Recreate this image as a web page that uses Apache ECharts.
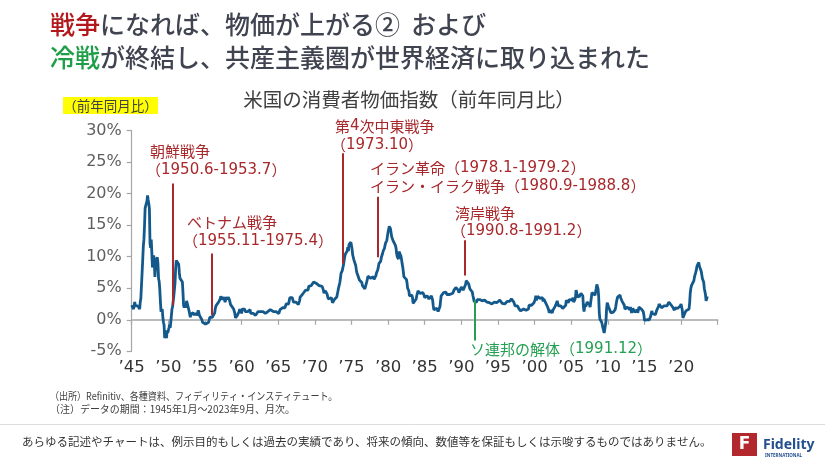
<!DOCTYPE html>
<html>
<head>
<meta charset="utf-8">
<script src="https://cdn.jsdelivr.net/npm/echarts@6/dist/echarts.min.js"></script>
<style>
html,body{margin:0;padding:0;background:#fff;}
#chart{width:825px;height:464px;}
</style>
</head>
<body>
<div id="chart"></div>
<script>
// US CPI, year-on-year %, monthly from 1945-01 to 2023-09
const cpi1940s = [
  2.3,2.3,2.3,1.7,2.3,2.8,2.2,2.2,2.2,2.2,2.2,2.2,
  2.2,1.7,2.8,3.4,3.3,3.3,9.4,11.6,12.7,14.9,17.7,18.1,
  18.1,18.8,19.7,19.0,18.4,17.6,12.1,11.4,12.7,10.6,8.3,8.8,
  10.2,9.3,6.8,8.3,9.4,9.5,9.9,8.9,6.5,6.1,4.8,3.0,
  1.3,1.3,1.7,0.4,-0.4,-0.8,-2.9,-2.9,-2.4,-2.9,-1.7,-2.1
];
const cpi1950s = [
  -2.1,-1.3,-0.8,-1.3,-0.4,-0.4,1.7,2.1,2.1,3.8,3.8,5.9,
  8.1,9.4,9.3,9.3,9.3,8.8,7.5,6.6,6.6,6.5,6.9,6.0,
  4.3,2.3,1.9,2.3,1.9,2.3,3.0,3.0,2.2,1.8,1.4,0.9,
  0.4,0.9,1.1,0.7,0.7,1.1,0.7,1.1,0.7,1.1,0.7,0.7,
  1.1,1.5,1.1,0.7,0.7,0.4,0.4,0.0,-0.4,-0.7,-0.4,-0.7,
  -0.7,-0.7,-0.7,-0.4,-0.7,-0.7,-0.4,-0.4,0.4,0.4,0.4,0.4,
  0.4,0.4,0.4,0.7,1.1,1.8,2.2,1.9,1.9,2.2,2.2,2.9,
  2.9,3.3,3.7,3.6,3.6,3.2,3.2,3.6,3.2,2.8,3.2,2.9,
  3.6,3.2,3.6,3.6,3.2,2.8,2.4,2.1,2.1,2.1,2.1,1.7,
  1.4,1.0,0.3,0.3,0.3,0.7,0.7,1.0,1.3,1.7,1.3,1.7
];
const cpi1960s = [
  1.0,1.7,1.7,1.7,1.7,1.7,1.3,1.3,1.3,1.3,1.3,1.3,
  1.6,1.3,1.6,1.0,0.9,0.7,1.3,1.0,1.3,0.7,0.7,0.7,
  0.7,1.0,1.0,1.3,1.3,1.3,1.0,1.3,1.3,1.3,1.3,1.3,
  1.3,1.0,1.0,1.0,1.0,1.3,1.3,1.3,1.0,1.3,1.3,1.6,
  1.6,1.6,1.3,1.3,1.3,1.3,1.3,1.0,1.3,1.0,1.3,1.0,
  1.0,1.0,1.3,1.6,1.6,1.9,1.6,1.9,1.6,1.9,1.6,1.9,
  1.9,2.5,2.5,2.8,2.8,2.5,2.8,3.5,3.5,3.8,3.8,3.5,
  3.5,2.8,2.8,2.5,2.5,2.8,2.8,2.5,2.8,2.4,2.7,3.0,
  3.6,3.9,3.9,3.9,3.9,4.2,4.5,4.5,4.4,4.7,4.7,4.7,
  4.4,4.7,5.3,5.5,5.5,5.5,5.4,5.7,5.7,5.7,6.0,6.2
];
const cpi1970s = [
  6.2,6.1,5.8,6.1,6.1,6.0,6.0,5.4,5.7,5.7,5.6,5.6,
  5.3,5.0,4.7,4.2,4.4,4.6,4.4,4.6,4.1,3.8,3.3,3.3,
  3.3,3.5,3.5,3.5,3.2,2.7,2.9,2.9,3.2,3.4,3.4,3.4,
  3.6,3.9,4.6,5.1,5.5,5.9,5.7,7.4,7.4,7.8,8.3,8.7,
  9.4,10.0,10.4,10.1,10.7,10.9,11.5,10.9,11.9,12.1,12.2,12.3,
  11.8,11.2,10.3,10.2,9.5,9.3,9.7,8.6,7.9,7.4,7.4,6.9,
  6.7,6.3,6.1,6.0,6.2,5.9,5.4,5.7,5.5,5.5,4.9,4.9,
  5.2,6.0,6.4,6.9,6.7,6.9,6.8,6.6,6.6,6.4,6.7,6.7,
  6.8,6.4,6.6,6.5,7.0,7.4,7.7,7.9,8.3,8.9,8.9,9.0,
  9.3,9.9,10.2,10.5,10.9,10.9,11.3,11.8,12.2,12.1,12.6,13.3
];
const cpi1980s = [
  13.9,14.2,14.8,14.7,14.4,14.4,13.1,12.9,12.6,12.8,12.6,12.5,
  11.8,11.4,10.5,10.0,9.8,9.6,10.8,10.8,11.0,10.1,9.6,8.9,
  8.4,7.6,6.8,6.5,6.7,7.1,6.4,5.9,5.0,5.1,4.6,3.8,
  3.7,3.5,3.6,3.9,3.5,2.6,2.5,2.6,2.9,2.9,3.3,3.8,
  4.2,4.6,4.8,4.6,4.2,4.2,4.2,4.3,4.3,4.3,4.1,3.9,
  3.5,3.5,3.7,3.7,3.8,3.8,3.6,3.3,3.1,3.2,3.5,3.8,
  3.9,3.1,2.2,1.6,1.5,1.8,1.6,1.6,1.8,1.5,1.3,1.1,
  1.5,2.1,3.0,3.8,3.9,3.7,3.9,4.3,4.4,4.5,4.5,4.4,
  4.0,3.9,3.9,3.9,3.9,4.0,4.1,4.0,4.2,4.2,4.2,4.4,
  4.7,4.8,5.0,5.1,5.4,5.2,5.0,4.7,4.3,4.5,4.7,4.6
];
const cpi1990s = [
  5.2,5.3,5.2,4.7,4.4,4.7,4.8,5.6,6.2,6.3,6.3,6.1,
  5.7,5.3,4.9,4.9,5.0,4.7,4.4,3.8,3.4,2.9,3.0,3.1,
  2.6,2.8,3.2,3.2,3.0,3.1,3.2,3.1,3.0,3.2,3.0,2.9,
  3.3,3.2,3.1,3.2,3.2,3.0,2.8,2.8,2.7,2.8,2.7,2.7,
  2.5,2.5,2.5,2.4,2.3,2.5,2.8,2.9,3.0,2.6,2.7,2.7,
  2.8,2.9,2.9,3.1,3.2,3.0,2.8,2.6,2.5,2.8,2.6,2.5,
  2.7,2.7,2.8,2.9,2.9,2.8,3.0,2.9,3.0,3.0,3.3,3.3,
  3.0,3.0,2.8,2.5,2.2,2.3,2.2,2.2,2.2,2.1,1.8,1.7,
  1.6,1.4,1.4,1.4,1.7,1.7,1.7,1.6,1.5,1.5,1.5,1.6,
  1.7,1.6,1.7,2.3,2.1,2.0,2.1,2.3,2.6,2.6,2.6,2.7
];
const cpi2000s = [
  2.7,3.2,3.8,3.1,3.2,3.7,3.7,3.4,3.5,3.4,3.4,3.4,
  3.7,3.5,2.9,3.3,3.6,3.2,2.7,2.7,2.6,2.1,1.9,1.6,
  1.1,1.1,1.5,1.6,1.2,1.1,1.5,1.8,1.5,2.0,2.2,2.4,
  2.6,3.0,3.0,2.2,2.1,2.1,2.1,2.2,2.3,2.0,1.8,1.9,
  1.9,1.7,1.7,2.3,3.1,3.3,3.0,2.7,2.5,3.2,3.5,3.3,
  3.0,3.0,3.1,3.5,2.8,2.5,3.2,3.6,4.7,4.3,3.5,3.4,
  4.0,3.6,3.4,3.5,4.2,4.3,4.1,3.8,2.1,1.3,2.0,2.5,
  2.1,2.4,2.8,2.6,2.7,2.7,2.4,2.0,2.8,3.5,4.3,4.1,
  4.3,4.0,4.0,3.9,4.2,5.0,5.6,5.4,4.9,3.7,1.1,0.1,
  0.0,0.2,-0.4,-0.7,-1.3,-1.4,-2.1,-1.5,-1.3,-0.2,1.8,2.7
];
const cpi2010s = [
  2.6,2.1,2.3,2.2,2.0,1.1,1.2,1.1,1.1,1.2,1.1,1.5,
  1.6,2.1,2.7,3.2,3.6,3.6,3.6,3.8,3.9,3.5,3.4,3.0,
  2.9,2.9,2.7,2.3,1.7,1.7,1.4,1.7,2.0,2.2,1.8,1.7,
  1.6,2.0,1.5,1.1,1.4,1.8,2.0,1.5,1.2,1.0,1.2,1.5,
  1.6,1.1,1.5,2.0,2.1,2.1,2.0,1.7,1.7,1.7,1.3,0.8,
  -0.1,0.0,-0.1,-0.2,0.0,0.1,0.2,0.2,0.0,0.2,0.5,0.7,
  1.4,1.0,0.9,1.1,1.0,1.0,0.8,1.1,1.5,1.6,1.7,2.1,
  2.5,2.7,2.4,2.2,1.9,1.6,1.7,1.9,2.2,2.0,2.2,2.1,
  2.1,2.2,2.4,2.5,2.8,2.9,2.9,2.7,2.3,2.5,2.2,1.9,
  1.6,1.5,1.9,2.0,1.8,1.6,1.8,1.7,1.7,1.8,2.1,2.3
];
const cpi2020s = [
  2.5,2.3,1.5,0.3,0.1,0.6,1.0,1.3,1.4,1.2,1.2,1.4,
  1.4,1.7,2.6,4.2,5.0,5.4,5.4,5.3,5.4,6.2,6.8,7.0,
  7.5,7.9,8.5,8.3,8.6,9.1,8.5,8.3,8.2,7.7,7.1,6.5,
  6.4,6.0,5.0,4.9,4.0,3.0,3.2,3.7,3.7
];
const startYear = 1945;
const yTicks = [-5, 30, 5];          // min, max, step
const xTicks = [1945, 2025, 5];      // min, max, step

// war / event annotation lines: [year, top %, bottom %]
const eventKorea   = [1950.6, 21.6, 2.3];
const eventVietnam = [1955.9, 10.5, 0.7];
const eventMEWar   = [1973.8, 26.4, 8.9];
const eventIran    = [1978.6, 19.5, 9.9];
const eventGulf    = [1990.4, 12.6, 7.0];
const eventUSSR    = [1991.9, 3.1, -3.3];

const cpiMonthly = [].concat(cpi1940s, cpi1950s, cpi1960s, cpi1970s, cpi1980s, cpi1990s, cpi2000s, cpi2010s, cpi2020s);
const lineData = cpiMonthly.map((v, i) => [startYear + i / 12, v]);

const RED = '#a8282b', GREEN = '#24a052', GRAY = '#404040';
const JP = '"Noto Sans CJK JP", "Noto Sans", sans-serif';
const NUM = '"DejaVu Sans", sans-serif';

function seg(e) { return [{ coord: [e[0], e[1]] }, { coord: [e[0], e[2]] }]; }

// annotation text: Japanese in CJK font, numbers in a wider sans
function ann(x, y, text, color) {
  const rt = '{j|' + text.replace(/[0-9][0-9.\-]*/g, m => '}{n|' + m + '}{j|') + '}';
  return {
    type: 'text', x: x, y: y,
    style: {
      text: rt, verticalAlign: 'middle',
      rich: {
        j: { fill: color, fontSize: 15, fontFamily: JP },
        n: { fill: color, fontSize: 15, fontFamily: NUM }
      }
    }
  };
}

const chart = echarts.init(document.getElementById('chart'));
chart.setOption({
  animation: false,
  backgroundColor: '#ffffff',
  grid: { left: 131.7, right: 107.3, top: 130.5, bottom: 112.7 },
  xAxis: [{
    type: 'value', min: xTicks[0], max: xTicks[1], interval: xTicks[2],
    axisLine: { show: true, onZero: true, lineStyle: { color: '#a6a6a6', width: 1.5 } },
    axisTick: { show: true, length: 5, lineStyle: { color: '#a6a6a6', width: 1.2 } },
    axisLabel: { show: false }, splitLine: { show: false }
  }, {
    type: 'value', position: 'bottom', min: xTicks[0], max: xTicks[1], interval: xTicks[2],
    axisLine: { show: false, onZero: false }, axisTick: { show: false }, splitLine: { show: false },
    axisLabel: {
      margin: 8, fontSize: 16.5, color: '#333333', fontFamily: NUM, showMaxLabel: false,
      formatter: v => (v >= 2025 ? '' : '\u2019' + String(v).slice(2))
    }
  }],
  yAxis: {
    type: 'value', min: yTicks[0], max: yTicks[1], interval: yTicks[2],
    axisLine: { show: true, lineStyle: { color: '#a6a6a6', width: 1.2 } },
    axisTick: { show: true, length: 5, lineStyle: { color: '#a6a6a6', width: 1.2 } },
    axisLabel: { margin: 10, fontSize: 16, color: '#5f5f5f', fontFamily: NUM, formatter: '{value}%' },
    splitLine: { show: false }
  },
  series: [{
    type: 'line', xAxisIndex: 0, data: lineData, showSymbol: false, symbol: 'none',
    lineStyle: { color: '#13598b', width: 2.8 }, z: 3,
    markLine: {
      silent: true, symbol: ['none', 'none'], label: { show: false }, animation: false,
      lineStyle: { color: RED, width: 2, type: 'solid' },
      data: [seg(eventKorea), seg(eventVietnam), seg(eventMEWar), seg(eventIran), seg(eventGulf),
        [{ coord: [eventUSSR[0], eventUSSR[1]], lineStyle: { color: GREEN, width: 2 } }, { coord: [eventUSSR[0], eventUSSR[2]] }]]
    }
  }],
  graphic: [
    { type: 'text', x: 50, y: 24, style: { text: '{r|戦争}{g|になれば、物価が上がる②  および}', verticalAlign: 'middle',
      rich: { r: { fill: '#b3191c', fontSize: 25, fontFamily: JP, fontWeight: 500 }, g: { fill: '#3f4450', fontSize: 25, fontFamily: JP, fontWeight: 500 } } } },
    { type: 'text', x: 50, y: 57, style: { text: '{r|冷戦}{g|が終結し、共産主義圏が世界経済に取り込まれた}', verticalAlign: 'middle',
      rich: { r: { fill: '#1f9e48', fontSize: 25, fontFamily: JP, fontWeight: 500 }, g: { fill: '#3f4450', fontSize: 25, fontFamily: JP, fontWeight: 500 } } } },
    { type: 'text', x: 409, y: 100, style: { text: '米国の消費者物価指数（前年同月比）', align: 'center', verticalAlign: 'middle', fill: GRAY, fontSize: 19.5, fontFamily: JP } },
    { type: 'rect', shape: { x: 63, y: 97, width: 95, height: 17 }, style: { fill: '#ffff00' } },
    { type: 'text', x: 110.5, y: 105.5, style: { text: '（前年同月比）', align: 'center', verticalAlign: 'middle', fill: GRAY, fontSize: 13.5, fontFamily: JP } },

    ann(150, 151, '朝鮮戦争', RED),
    ann(146, 170, '（1950.6-1953.7）', RED),
    ann(187, 222, 'ベトナム戦争', RED),
    ann(183, 241, '（1955.11-1975.4）', RED),
    ann(335, 126, '第4次中東戦争', RED),
    ann(331, 145, '（1973.10）', RED),
    ann(370, 168, 'イラン革命（1978.1-1979.2）', RED),
    ann(370, 186, 'イラン・イラク戦争（1980.9-1988.8）', RED),
    ann(455, 213, '湾岸戦争', RED),
    ann(451, 231, '（1990.8-1991.2）', RED),
    ann(470, 349, 'ソ連邦の解体（1991.12）', GREEN),

    { type: 'text', x: 50, y: 396, scaleX: 0.86, style: { text: '（出所）Refinitiv、各種資料、フィディリティ・インスティテュート。', verticalAlign: 'middle', fill: GRAY, fontSize: 10.5, fontFamily: JP } },
    { type: 'text', x: 50, y: 409, scaleX: 0.95, style: { text: '（注）データの期間：1945年1月～2023年9月、月次。', verticalAlign: 'middle', fill: GRAY, fontSize: 10.5, fontFamily: JP } },
    { type: 'line', shape: { x1: 0, y1: 424.5, x2: 825, y2: 424.5 }, style: { stroke: '#dcdcdc', lineWidth: 1 } },
    { type: 'text', x: 22, y: 442, style: { text: 'あらゆる記述やチャートは、例示目的もしくは過去の実績であり、将来の傾向、数値等を保証もしくは示唆するものではありません。', verticalAlign: 'middle', fill: '#333333', fontSize: 11.5, fontFamily: JP } },

    { type: 'rect', shape: { x: 732, y: 433, width: 25, height: 23 }, style: { fill: '#b3282d' } },
    { type: 'text', x: 744.5, y: 445, style: { text: 'F', align: 'center', verticalAlign: 'middle', fill: '#ffffff', fontSize: 17, fontWeight: 'bold', fontFamily: '"DejaVu Sans", sans-serif' } },
    { type: 'text', x: 763, y: 445, style: { text: 'Fidelity', verticalAlign: 'middle', fill: '#24508f', fontSize: 14, fontWeight: 'bold', fontFamily: '"Noto Sans", sans-serif' } },
    { type: 'text', x: 765, y: 455.5, style: { text: 'INTERNATIONAL', verticalAlign: 'middle', fill: '#24508f', fontSize: 4.5, fontWeight: 'bold', fontFamily: '"Noto Sans", sans-serif' } }
  ]
});
</script>
</body>
</html>
